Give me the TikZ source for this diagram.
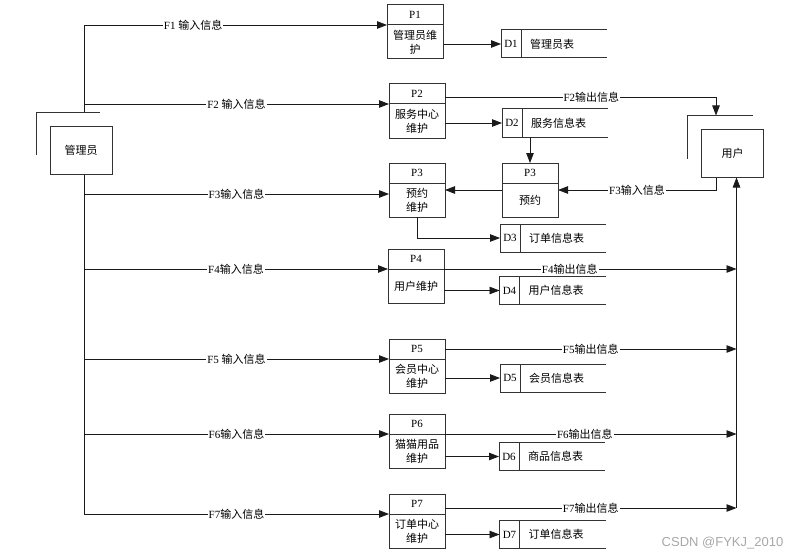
\documentclass[tikz,border=0pt]{standalone}
\usepackage{fontspec}
\setmainfont{Liberation Serif}
\newfontfamily\zhfont{Noto Sans CJK SC}
\newfontfamily\wmfont{Liberation Sans}
\usetikzlibrary{arrows.meta, positioning}
\definecolor{cline}{HTML}{1A1A1A}
\definecolor{cbox}{HTML}{333333}
\definecolor{cmark}{HTML}{A8A8A8}
\tikzset{
  every picture/.style={line width=0.8pt, x=1pt, y=-1pt, font=\fontsize{11}{14}\selectfont},
  ent/.style={draw=cbox, line width=1pt, minimum width=62pt, minimum height=48pt, font=\zhfont\fontsize{11}{14}\selectfont},
  shade/.style={draw=cbox, line width=1pt},
  ptop/.style={draw=cbox, line width=1pt, outer sep=0pt, minimum width=56pt, minimum height=20pt, inner sep=0pt},
  pbody/.style={draw=cbox, line width=1pt, outer sep=0pt, minimum width=56pt, minimum height=34pt, inner sep=1pt, align=center, font=\zhfont\fontsize{11}{14}\selectfont},
  sid/.style={draw=cbox, line width=1pt, outer sep=0pt, minimum width=20pt, minimum height=28pt, inner sep=0pt},
  sbody/.style={outer sep=0pt, minimum height=28pt, text width=68pt, inner xsep=9pt, align=left, font=\zhfont\fontsize{11}{14}\selectfont,
    append after command={(\tikzlastnode.north west) edge[draw=cbox, line width=1pt] (\tikzlastnode.north east)
      (\tikzlastnode.south west) edge[draw=cbox, line width=1pt] (\tikzlastnode.south east)}},
  flow/.style={-{Triangle[length=10pt, width=7.5pt]}, draw=cline},
  lab/.style={fill=white, inner sep=1pt},
  wm/.style={font=\wmfont\fontsize{13}{15}\selectfont, text=cmark},
}

\begin{document}
\begin{tikzpicture}
  \useasboundingbox (0,0) rectangle (802,559);
  % external entities
  \node[ent] (adm) at (81,150) {管理员};
  \draw[shade] ([shift={(-13pt,20pt)}]adm.south west) |- ([shift={(-13pt,13pt)}]adm.north east);
  \node[ent] (usr) at (732.5,153) {用户};
  \draw[shade] ([shift={(-14pt,19pt)}]usr.south west) |- ([shift={(-11pt,13pt)}]usr.north east);

  % processes
  \node[ptop] (p1t) at (415,15) {P1};
  \node[pbody, below=0pt of p1t] (p1) {管理员维\\护};
  \node[ptop] (p2t) at (417,94) {P2};
  \node[pbody, below=0pt of p2t] (p2) {服务中心\\维护};
  \node[ptop] (p3t) at (417,173) {P3};
  \node[pbody, below=0pt of p3t] (p3) {预约\\维护};
  \node[ptop] (q3t) at (530,173) {P3};
  \node[pbody, below=0pt of q3t] (q3) {预约};
  \node[ptop] (p4t) at (416,259) {P4};
  \node[pbody, below=0pt of p4t] (p4) {用户维护};
  \node[ptop] (p5t) at (417,349) {P5};
  \node[pbody, below=0pt of p5t] (p5) {会员中心\\维护};
  \node[ptop] (p6t) at (417,424) {P6};
  \node[pbody, below=0pt of p6t] (p6) {猫猫用品\\维护};
  \node[ptop] (p7t) at (417,504) {P7};
  \node[pbody, below=0pt of p7t] (p7) {订单中心\\维护};

  % data stores
  \node[sid] (d1) at (511,44) {D1};
  \node[sbody, right=0pt of d1] (d1b) {管理员表};
  \node[sid] (d2) at (512,123) {D2};
  \node[sbody, right=0pt of d2] (d2b) {服务信息表};
  \node[sid] (d3) at (510,238) {D3};
  \node[sbody, right=0pt of d3] (d3b) {订单信息表};
  \node[sid] (d4) at (509.5,290.5) {D4};
  \node[sbody, right=0pt of d4] (d4b) {用户信息表};
  \node[sid] (d5) at (510,378) {D5};
  \node[sbody, right=0pt of d5] (d5b) {会员信息表};
  \node[sid] (d6) at (509,456.5) {D6};
  \node[sbody, right=0pt of d6] (d6b) {商品信息表};
  \node[sid] (d7) at (509.5,534.5) {D7};
  \node[sbody, right=0pt of d7] (d7b) {订单信息表};

  \coordinate (tk) at ([shift={(3pt,13pt)}]adm.north);
  \coordinate (tb) at ([xshift=3pt]adm.south);
  \coordinate (p3in) at ([yshift=6pt]p3.west);
  \coordinate (q3in) at ([yshift=10pt]q3.east);
  \coordinate (p2out) at ([yshift=-3pt]p2t.east);
  \coordinate (p7out) at ([yshift=-4pt]p7t.east);
  \coordinate (uin) at ([shift={(-16.5pt,13pt)}]usr.north);
  \coordinate (uout) at ([xshift=-16.5pt]usr.south);
  \coordinate (rt) at ([xshift=4pt]usr.south);

  % admin inputs
  \draw[flow] (tk) |- node[lab, pos=0.68] {F1 {\zhfont 输入信息}} (p1.north west);
  \draw[flow] (tk |- p2.north west) -- node[lab] {F2 {\zhfont 输入信息}} (p2.north west);
  \draw[flow] (tb |- p3in) -- node[lab] {F3{\zhfont 输入信息}} (p3in);
  \draw[flow] (tb |- p4.north west) -- node[lab] {F4{\zhfont 输入信息}} (p4.north west);
  \draw[flow] (tb |- p5.north west) -- node[lab] {F5 {\zhfont 输入信息}} (p5.north west);
  \draw[flow] (tb |- p6.north west) -- node[lab] {F6{\zhfont 输入信息}} (p6.north west);
  \draw[flow] (tb) |- node[lab, pos=0.75] {F7{\zhfont 输入信息}} (p7.north west);

  % process to store
  \draw[flow] (p1.east |- d1) -- (d1);
  \draw[flow] (p2.east |- d2) -- (d2);
  \draw[flow] (p3.south) |- (d3);
  \draw[flow] (p4.east |- d4) -- (d4);
  \draw[flow] (p5.east |- d5) -- (d5);
  \draw[flow] (p6.east |- d6) -- (d6);
  \draw[flow] (p7.east |- d7) -- (d7);
  \draw[flow] (q3t |- d2b.south) -- (q3t.north);
  \draw[flow] (q3in -| q3.west) -- (q3in -| p3.east);

  % user side
  \draw[flow] (p2out) -| node[lab, pos=0.27] {F2{\zhfont 输出信息}} (uin);
  \draw[flow] (uout) |- node[lab, pos=0.75] {F3{\zhfont 输入信息}} (q3in);
  \draw[flow] (p4.north east) -- node[lab, pos=0.43] {F4{\zhfont 输出信息}} (p4.north east -| rt);
  \draw[flow] (p5t.east) -- node[lab] {F5{\zhfont 输出信息}} (p5t.east -| rt);
  \draw[flow] (p6.north east) -- node[lab, pos=0.48] {F6{\zhfont 输出信息}} (p6.north east -| rt);
  \draw[flow] (p7out) -- node[lab] {F7{\zhfont 输出信息}} (p7out -| rt);
  \draw[flow] (rt |- p7out) -- (rt);

  \node[wm, anchor=east] (mark) at (787,543) {CSDN @FYKJ\_2010};
\end{tikzpicture}
\end{document}
